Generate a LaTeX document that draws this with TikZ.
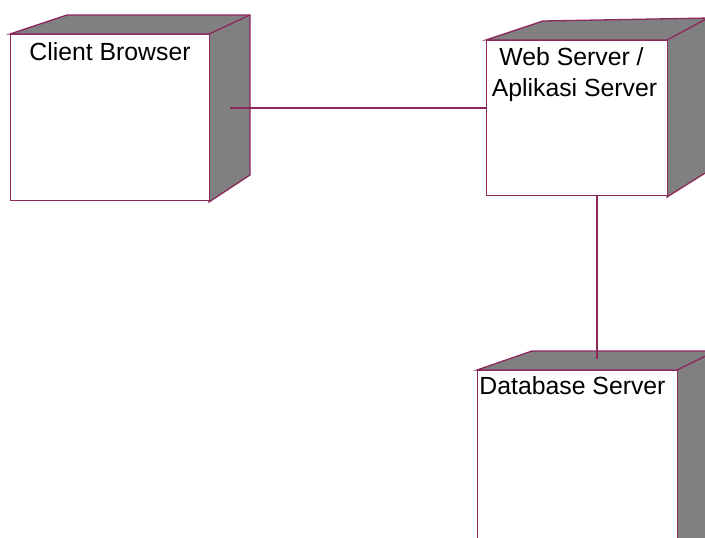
\documentclass[tikz,border=0pt]{standalone}
\usepackage{fontspec}
\setmainfont{Liberation Sans}
\definecolor{edge}{RGB}{140,40,90}
\definecolor{side}{RGB}{128,128,128}
\begin{document}
\begin{tikzpicture}[x=1pt,y=-1pt,
  face/.style={draw=edge,line width=1.3pt,fill=white,rectangle,inner sep=0pt,anchor=north west},
  shade/.style={draw=edge,line width=1.3pt,fill=side,line join=miter},
  lbl/.style={font=\fontsize{24.8}{29}\selectfont,anchor=base,inner sep=0pt},
  conn/.style={draw=edge,line width=1.1pt}]
\path[use as bounding box] (0,0) rectangle (705,538);
\clip (0,0) rectangle (705,538);
% Client Browser
\draw[shade] (10,34) -- (67,15) -- (250,15) -- (250,175) -- (209,202) -- (209,34) -- cycle;
\node[face,minimum width=199pt,minimum height=166pt] (client) at (10,34) {};
\draw[edge,line width=1.3pt] (209,34) -- (250,15);
\node[lbl] (clientlbl) at (110,60) {Client Browser};
% Web Server
\draw[shade] (486,40) -- (543,21) -- (710,18) -- (710,170) -- (667,197) -- (667,40) -- cycle;
\node[face,minimum width=181pt,minimum height=155pt] (web) at (486,40) {};
\draw[edge,line width=1.3pt] (667,40) -- (710,17);
\node[lbl] (weblbl1) at (571.5,65) {Web Server /};
\node[lbl] (weblbl2) at (574.5,96) {Aplikasi Server};
% Database Server
\draw[shade] (477,370) -- (532,351) -- (720,351) -- (720,560) -- (677,560) -- (677,370) -- cycle;
\node[face,minimum width=200pt,minimum height=180pt] (db) at (477,370) {};
\draw[edge,line width=1.3pt] (677,370) -- (720,349);
\node[lbl] (dblbl) at (572.5,394) {Database Server};
% connectors
\coordinate (cb) at (230,108);
\coordinate (dbtop) at (597,359);
\draw[conn] (cb) -- (cb -| web.west);
\draw[conn] (dbtop |- web.south) -- (dbtop);
\end{tikzpicture}
\end{document}
